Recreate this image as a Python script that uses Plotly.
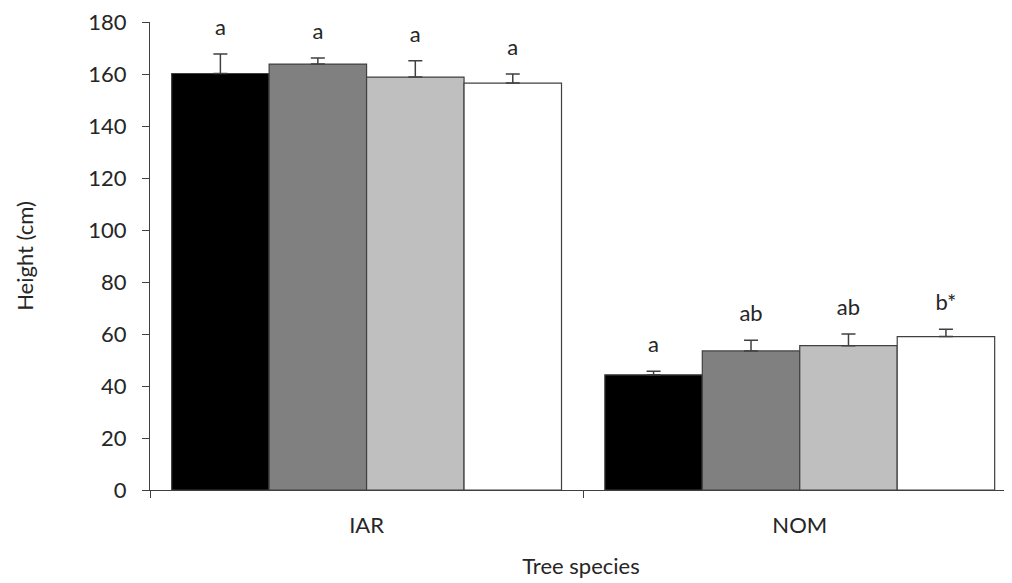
import plotly.graph_objects as go

species = ["IAR", "NOM"]
series_names = ["T1", "T2", "T3", "T4"]
means = {
    "T1": [160.2, 44.3],
    "T2": [163.8, 53.5],
    "T3": [158.8, 55.5],
    "T4": [156.5, 59.0],
}
errors = {
    "T1": [7.5, 1.4],
    "T2": [2.4, 4.1],
    "T3": [6.3, 4.5],
    "T4": [3.5, 2.8],
}
letters = {
    "T1": ["a", "a"],
    "T2": ["a", "ab"],
    "T3": ["a", "ab"],
    "T4": ["a", "b*"],
}
colors = ["#000000", "#808080", "#BFBFBF", "#FFFFFF"]
y_ticks = [0, 20, 40, 60, 80, 100, 120, 140, 160, 180]

FONT = "Lato"
TXT = "#262626"
AX = "#404040"

fig = go.Figure()
for i, s in enumerate(series_names):
    fig.add_trace(go.Bar(
        x=species, y=means[s], name=s,
        offsetgroup=str(i), alignmentgroup="g",
        marker=dict(color=colors[i], line=dict(color=AX, width=1.2)),
        error_y=dict(type="data", array=errors[s], arrayminus=[0, 0],
                     symmetric=False, color=AX, thickness=1.5, width=7),
        showlegend=False,
    ))
for i, s in enumerate(series_names):
    tops = [m + e for m, e in zip(means[s], errors[s])]
    fig.add_trace(go.Scatter(
        x=species, y=tops, mode="text+markers", text=letters[s],
        textposition="top center",
        marker=dict(size=20, opacity=0),
        textfont=dict(family=FONT, size=22, color=TXT),
        offsetgroup=str(i), alignmentgroup="g",
        showlegend=False, hoverinfo="skip",
    ))

# page body adds an 8px margin, so the figure is sized to end at the window edge
fig.update_layout(
    width=1004, height=575,
    margin=dict(l=142, r=0, t=12, b=93),
    paper_bgcolor="white", plot_bgcolor="white",
    barmode="group", bargap=0.1, bargroupgap=0,
    scattermode="group", scattergap=0.1,
    font=dict(family=FONT, size=22, color=TXT),
    showlegend=False,
)
fig.update_xaxes(
    type="category", range=[-0.5, 1.49],
    showline=True, linecolor=AX, linewidth=1.2,
    ticks="outside", tickson="boundaries", ticklen=7, tickcolor=AX,
    ticklabelstandoff=15,
    tickfont=dict(family=FONT, size=22, color=TXT),
    title=dict(text="Tree species", font=dict(family=FONT, size=22, color=TXT), standoff=22),
    showgrid=False, zeroline=False,
)
fig.update_yaxes(
    range=[0, 180], tickvals=y_ticks,
    showline=True, linecolor=AX, linewidth=1.2,
    ticks="outside", ticklen=7, tickcolor=AX,
    ticklabelstandoff=11, ticklabeloverflow="allow",
    tickfont=dict(family=FONT, size=22, color=TXT),
    title=dict(text="Height (cm)", font=dict(family=FONT, size=22, color=TXT), standoff=48),
    showgrid=False, zeroline=False,
)

fig.write_html("out.html")
